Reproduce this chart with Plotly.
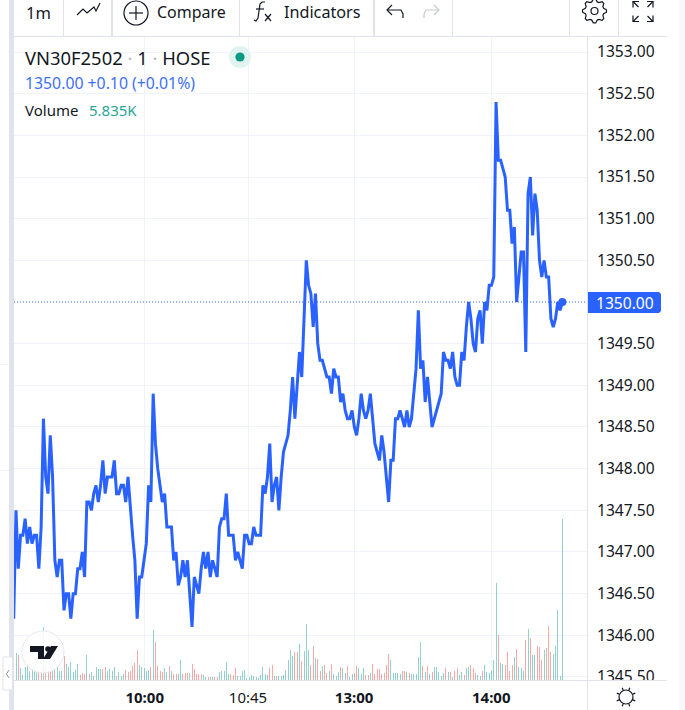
import math
import plotly.graph_objects as go

FONT = "Noto Sans"
TITLE = "VN30F2502"
TICK_LABELS = ["10:00", "10:45", "13:00", "14:00"]
TICK_BARS = [56.3, 101.5, 147.9, 207.9]
BOLD_TICKS = ["10:00", "13:00", "14:00"]
LAST_PRICE = 1350.00
PRICE_TICKS = [1345.5, 1346.0, 1346.5, 1347.0, 1347.5, 1348.0, 1348.5, 1349.0, 1349.5,
               1350.5, 1351.0, 1351.5, 1352.0, 1352.5, 1353.0]

prices = [
    1346.2,
    1347.5, 1346.8, 1347.2, 1347.2, 1347.4, 1347.1, 1347.3, 1347.1, 1347.2, 1347.2,
    1346.8, 1347.3, 1348.6, 1347.9, 1347.7, 1348.4, 1347.9, 1346.9, 1346.7, 1346.9,
    1346.9, 1346.3, 1346.5, 1346.5, 1346.2, 1346.5, 1346.5, 1346.8, 1346.8, 1347.0,
    1346.7, 1347.6, 1347.6, 1347.5, 1347.7, 1347.8, 1347.6, 1347.8, 1348.1, 1347.7,
    1347.9, 1347.9, 1347.9, 1348.1, 1347.7, 1347.7, 1347.8, 1347.8, 1347.6, 1347.9,
    1347.5, 1347.2, 1346.9, 1346.2, 1346.7, 1346.7, 1346.9, 1347.1, 1347.8, 1347.6,
    1348.9, 1348.3, 1348.0, 1347.8, 1347.6, 1347.7, 1347.3, 1347.3, 1347.3, 1346.9,
    1347.0, 1346.6, 1346.7, 1346.9, 1346.7, 1346.9, 1346.5, 1346.1, 1346.7, 1346.6,
    1346.5, 1346.8, 1347.0, 1346.8, 1347.0, 1346.7, 1346.9, 1346.8, 1346.7, 1347.3,
    1347.4, 1347.4, 1347.7, 1347.2, 1347.2, 1347.2, 1346.9, 1347.0, 1346.9, 1346.8,
    1347.2, 1347.2, 1347.1, 1347.1, 1347.3, 1347.2, 1347.2, 1347.2, 1347.8, 1347.7,
    1347.9, 1348.3, 1347.6, 1347.8, 1347.9, 1347.5, 1347.9, 1348.2, 1348.3, 1348.4,
    1348.7, 1349.1, 1348.6, 1349.0, 1349.4, 1349.1, 1349.9, 1350.5, 1350.2, 1350.1,
    1349.7, 1350.1, 1349.5, 1349.3, 1349.3, 1349.2, 1349.1, 1349.1, 1348.9, 1349.2,
    1349.1, 1349.1, 1348.8, 1348.9, 1348.7, 1348.6, 1348.6, 1348.7, 1348.5, 1348.4,
    1348.6, 1348.9, 1348.7, 1348.6, 1348.7, 1348.9, 1348.6, 1348.3, 1348.2, 1348.1,
    1348.4, 1348.2, 1347.9, 1347.6, 1348.1, 1348.1, 1348.6, 1348.6, 1348.7, 1348.6,
    1348.5, 1348.7, 1348.5, 1348.6, 1348.9, 1349.2, 1349.9, 1349.2, 1349.3, 1348.8,
    1349.1, 1348.8, 1348.5, 1348.6, 1348.7, 1348.8, 1348.9, 1349.4, 1349.3, 1349.3,
    1349.2, 1349.4, 1349.1, 1349.0, 1349.0, 1349.4, 1349.3, 1349.7, 1350.0, 1349.8,
    1349.5, 1349.4, 1349.8, 1349.9, 1349.5, 1350.0, 1349.9, 1350.2, 1350.2, 1350.3,
    1352.4, 1351.7, 1351.7, 1351.6, 1351.5, 1351.1, 1351.1, 1350.7, 1350.9, 1350.0,
    1350.3, 1350.6, 1350.6, 1349.4, 1351.3, 1351.5, 1350.8, 1351.3, 1351.1, 1350.5,
    1350.3, 1350.5, 1350.3, 1350.3, 1349.8, 1349.7, 1349.8, 1350.0, 1349.9, 1350.0,
]

volumes_k = [
    .98, .91, .43, .18, .47, .58, .33, .40, .36, .33,
    .33, .33, 1.92, .43, .33, .43, .36, .40, .47, .33,
    .33, .87, .58, .47, .65, .29, .36, .58, .18, .25,
    .22, .91, .22, .29, .14, .47, .40, .40, .40, .47,
    .33, .40, .33, .47, .14, .29, .14, .22, .36, .29,
    .33, .51, .62, 1.09, .54, .47, .43, .33, .36, .47,
    1.81, 1.38, .51, .33, .29, .43, .29, .51, .33, .22,
    .22, .22, .72, .22, .25, .25, .25, .58, .40, .22,
    .22, .22, .18, .11, .11, .11, .11, .11, .11, .29,
    .33, .33, .65, .22, .22, .18, .43, .14, .14, .33,
    .36, .07, .11, .18, .14, .11, .07, .18, .47, .22,
    .18, .43, .54, .14, .14, .14, .14, .18, .36, .72,
    1.09, .87, 1.01, 1.01, 1.30, .69, 1.05, 2.03, 1.09, .54,
    1.23, .80, .76, .33, .51, .54, .25, .33, .58, .22,
    .14, .29, .47, .43, .25, .51, .11, .22, .25, .51,
    .43, .22, .43, .18, .18, .25, .58, .22, .40, .40,
    .22, .25, .54, .94, .72, .25, .25, .25, .22, .33,
    .33, .29, .25, .22, .22, .22, .83, 1.38, .51, .29,
    .51, .22, .29, .47, .47, .29, .14, .25, .43, .29,
    .29, .11, .33, .43, .18, .29, .18, .43, .47, .54,
    .43, .25, .18, .14, .33, .54, .29, .25, .33, .72,
    3.52, 1.63, .62, .58, .54, 1.01, .33, .54, .83, 1.12,
    .47, .43, .33, 1.45, 1.85, 1.52, .91, .91, 1.23, 1.20,
    .72, 1.09, 1.16, 1.96, 1.01, .94, 1.23, 2.54, .14, 5.835,
]

bar_direction = "".join([
    "grgggggggg", "rrgrrrgrgg", "grggggggrr", "rgrgggggrr", "ggggrgggrr", "rrrrgggggr",
    "grrrrggrgr", "rggrrrgrrr", "rrggrggrrg", "ggggrrrggg", "gggggggggg", "grrgrggggg",
    "ggrrgrgggr", "rgrrgrrgrg", "ggrggrggrr", "gggrrgrrrr", "rrrrgggggr", "rgrgggggrg",
    "rgrgggggrg", "rgrrggrggr", "rrggrggggg", "grggrrrrgr", "gggrgrggrr", "rgrrrggggg",
])

bar_index = list(range(len(volumes_k)))
price_index = list(range(-1, len(prices) - 1))

# pixel geometry of the plot area
L, R, T, B = 14, 587, 37, 680
W, H = 685, 710
PX_PER_BAR = 2.286
FIRST_BAR_X = 16
x_range = [(L - FIRST_BAR_X) / PX_PER_BAR, (R - FIRST_BAR_X) / PX_PER_BAR]
PX_PER_UNIT = 83.33
price_range = [1350 - (B - 302) / PX_PER_UNIT, 1350 + (302 - T) / PX_PER_UNIT]
vol_range = [0, (B - T) * 5.835 / 161]


def px(x):
    return (x - L) / (R - L)


def py(y):
    return (B - y) / (B - T)


shapes = []
annotations = []


def path(d, color="#131722", width=1.2, fill=None, layer="above"):
    s = ""
    for c in d:
        if c[0] == "Z":
            s += " Z"
        else:
            s += f" {c[0]} {px(c[1]):.5f} {py(c[2]):.5f}"
    shapes.append(dict(type="path", path=s.strip(), xref="paper", yref="paper", layer=layer,
                       line=dict(color=color, width=width),
                       fillcolor=fill if fill else "rgba(0,0,0,0)"))


def poly(points, **k):
    path([("M", *points[0])] + [("L", *p) for p in points[1:]], **k)


def rect(x0, y0, x1, y1, fill, layer="above", line=None):
    shapes.append(dict(type="rect", xref="paper", yref="paper", layer=layer,
                       x0=px(x0), x1=px(x1), y0=py(y1), y1=py(y0), fillcolor=fill,
                       line=dict(width=1 if line else 0, color=line or fill)))


def circle(cx, cy, r, fill="rgba(0,0,0,0)", line=None, width=1.2):
    shapes.append(dict(type="circle", xref="paper", yref="paper", layer="above",
                       x0=px(cx - r), x1=px(cx + r), y0=py(cy + r), y1=py(cy - r),
                       fillcolor=fill, line=dict(width=width if line else 0, color=line or fill)))


def text(x, y, s, size=14, color="#131722", anchor="left"):
    annotations.append(dict(xref="paper", yref="paper", x=px(x), y=py(y), text=s, showarrow=False,
                            xanchor=anchor, yanchor="middle", borderpad=0, borderwidth=0,
                            font=dict(family=FONT, size=size, color=color)))


GRID = "#f0f3fa"
EDGE = "#e0e3eb"

# last price line
shapes.append(dict(type="line", xref="paper", yref="y2", x0=0, x1=1, y0=LAST_PRICE, y1=LAST_PRICE,
                   layer="above", line=dict(color="#2962ff", width=1, dash="1px,2px")))

# chrome: strips and dividers
rect(588, 681, 679, 710, "#ffffff")
rect(9, 0, 14, 710, EDGE)
rect(679, 0, 685, 710, "#f8f8fa")
rect(14, 36, 667, 37, EDGE)
rect(14, 680, 667, 681, EDGE)
rect(587, 37, 588, 710, EDGE)
rect(0, 364, 9, 365, GRID)
rect(0, 470, 9, 471, GRID)
for sx, sw in [(63, 1), (111, 2), (239, 1), (373, 2), (452, 1), (569, 1), (618, 1)]:
    rect(sx, 0, sx + sw, 36, EDGE)

# price label box
poly([(588, 292), (659, 292), (661, 294), (661, 311), (659, 313), (588, 313)],
     color="#2962ff", width=0, fill="#2962ff")
text(596, 302.5, "1350.00", size=15.6, color="#ffffff")

# watermark badge
circle(43, 652, 21, fill="rgba(255,255,255,0.88)", line="#e6e8ee", width=1)
poly([(30, 646), (44, 646), (44, 659), (38, 659), (38, 652), (30, 652)], color="#131722", width=0, fill="#131722")
circle(48, 649, 2.8, fill="#131722")
poly([(51, 646), (58, 646), (50, 659), (43, 659)], color="#131722", width=0, fill="#131722")

# collapse handle
shapes.append(dict(type="rect", xref="paper", yref="paper", layer="above", x0=px(3), x1=px(12.5),
                   y0=py(690), y1=py(657), fillcolor="#ffffff", line=dict(color=EDGE, width=1)))
poly([(9, 670), (6.5, 674), (9, 678)], color="#9598a1", width=1)

# status dot
circle(240, 57, 11, fill="#e0f3f0")
circle(240, 57, 4.6, fill="#089981")

# toolbar
text(26, 13, "1m", size=16.5)
text(157, 12.5, "Compare", size=16)
text(284, 12.5, "Indicators", size=16.2)
poly([(77, 15), (83, 9), (87, 13), (94, 7), (96, 11), (100, 3)], width=1.2)
circle(136, 13, 12, line="#131722", width=1.2)
poly([(129, 13), (143, 13)], width=1.2)
poly([(136, 6), (136, 20)], width=1.2)
# fx icon
poly([(265, 2), (262, 2), (260, 4), (258, 18), (256, 21), (254, 20)], width=1.2)
poly([(256, 9), (264, 9)], width=1.2)
poly([(265, 14), (271, 21)], width=1.2)
poly([(271, 14), (265, 21)], width=1.2)
# undo / redo
poly([(403, 18), (403, 14), (401, 10), (388, 10)], width=1.2)
poly([(392, 5), (387, 10), (392, 15)], width=1.2)
poly([(424, 18), (424, 14), (426, 10), (438, 10)], color="#c8cad0", width=1.2)
poly([(434, 5), (439, 10), (434, 15)], color="#c8cad0", width=1.2)

# gear
pts = []
for i in range(32):
    a = 2 * math.pi * i / 32
    r = 12 if i % 4 in (0, 1) else 9.5
    pts.append((594.5 + r * math.cos(a - 0.1), 11 + r * math.sin(a - 0.1)))
path([("M", *pts[0])] + [("L", *p) for p in pts[1:]] + [("Z",)], width=1.2)
circle(594.5, 11, 3.5, line="#131722", width=1.2)

# expand icon
for sx, sy in [(-1, -1), (1, -1), (-1, 1), (1, 1)]:
    cx, cy = 643, 11.5
    poly([(cx + sx * 10, cy + sy * 4), (cx + sx * 10, cy + sy * 10), (cx + sx * 4, cy + sy * 10)], width=1.2)
    poly([(cx + sx * 10, cy + sy * 10), (cx + sx * 4.5, cy + sy * 4.5)], width=1.2)

# sun icon
circle(626, 697, 7, line="#131722", width=1.2)
for i in range(8):
    a = math.pi * i / 4 + math.pi / 8
    poly([(626 + 7.5 * math.cos(a), 697 + 7.5 * math.sin(a)),
          (626 + 10 * math.cos(a), 697 + 10 * math.sin(a))], width=1.2)

# legend
dot = "<span style='color:#b2b5be'> · </span>"
text(25, 58, f"{TITLE}{dot}1{dot}HOSE", size=18.4)
text(25, 83, "1350.00 +0.10 (+0.01%)", size=15.8, color="#3d6ffd")
text(25, 110, "Volume", size=15)
text(89, 110, "5.835K", size=15, color="#26a69a")

bar_colors = ["rgba(38,166,154,0.5)" if d == "g" else "rgba(239,83,80,0.5)" for d in bar_direction]

fig = go.Figure()
fig.add_trace(go.Bar(x=bar_index, y=volumes_k, width=0.44, marker=dict(color=bar_colors, line=dict(width=0)),
                     yaxis="y", hoverinfo="skip", showlegend=False))
fig.add_trace(go.Scatter(x=price_index, y=prices, mode="lines", yaxis="y2", showlegend=False,
                         line=dict(color="#2962ff", width=3, shape="linear")))
fig.add_trace(go.Scatter(x=[price_index[-1]], y=[prices[-1]], mode="markers", yaxis="y2", showlegend=False,
                         marker=dict(color="#2962ff", size=8)))

tick_text = [f"<b>{t}</b>" if t in BOLD_TICKS else t for t in TICK_LABELS]

fig.update_layout(
    width=W, height=H,
    margin=dict(l=L, r=W - R, t=T, b=H - B, pad=0, autoexpand=False),
    paper_bgcolor="#ffffff", plot_bgcolor="#ffffff",
    bargap=0,
    font=dict(family=FONT, color="#131722"),
    shapes=shapes, annotations=annotations,
    xaxis=dict(range=x_range, tickmode="array", tickvals=TICK_BARS, ticktext=tick_text,
               showgrid=True, gridcolor=GRID, gridwidth=1, zeroline=False, showline=False,
               ticks="", tickfont=dict(size=15, family=FONT, color="#131722"),
               tickangle=0, ticklabelstandoff=7, automargin=False),
    yaxis=dict(range=vol_range, visible=False, fixedrange=True),
    yaxis2=dict(range=price_range, overlaying="y", side="right", anchor="x",
                tickmode="array", tickvals=PRICE_TICKS,
                tickformat=".2f", showgrid=True, gridcolor=GRID, gridwidth=1, zeroline=False,
                showline=False, ticks="", tickfont=dict(size=15.6, family=FONT, color="#131722"),
                ticklabelstandoff=9, automargin=False),
)

fig.write_html("out.html", post_script="document.body.style.margin='0';document.documentElement.style.overflow='hidden';window.dispatchEvent(new Event('resize'));", config=dict(displayModeBar=False))
